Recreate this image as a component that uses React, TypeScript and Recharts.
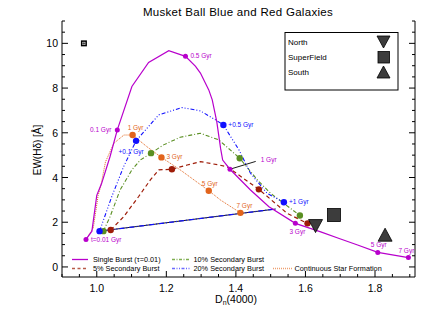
import React from "react";
import { ComposedChart, Line, Scatter, XAxis, YAxis } from "recharts";

// model tracks, [Dn(4000), EW(Hdelta)]
const singleBurst = [
  [0.969, 1.23], [0.986, 1.6], [1.0, 3.2], [1.014, 3.74], [1.038, 4.93],
  [1.059, 6.13], [1.101, 8.07], [1.149, 9.15], [1.207, 9.67], [1.255, 9.42],
  [1.284, 8.97], [1.298, 8.67], [1.322, 7.92], [1.332, 7.47], [1.345, 6.5],
  [1.356, 5.3], [1.362, 4.78], [1.383, 4.37], [1.442, 3.44], [1.495, 2.69],
  [1.571, 1.95], [1.644, 1.57], [1.697, 1.27], [1.75, 0.98], [1.808, 0.65],
  [1.896, 0.42],
];
const burst5 = [
  [1.04, 1.65], [1.077, 2.24], [1.12, 3.14], [1.154, 3.89], [1.178, 4.34],
  [1.216, 4.37], [1.26, 4.56], [1.298, 4.71], [1.351, 4.56], [1.375, 4.48],
  [1.466, 3.47], [1.548, 2.39], [1.606, 1.95],
];
const burst10 = [
  [1.019, 1.6], [1.038, 2.24], [1.067, 3.44], [1.101, 4.34], [1.125, 4.78],
  [1.156, 5.09], [1.192, 5.46], [1.24, 5.8], [1.298, 5.98], [1.351, 5.68],
  [1.411, 4.86], [1.462, 3.89], [1.5, 3.29], [1.584, 2.3],
];
const burst20 = [
  [1.008, 1.6], [1.043, 3.14], [1.077, 4.48], [1.113, 5.64], [1.178, 6.8],
  [1.245, 7.13], [1.298, 6.98], [1.341, 6.58], [1.364, 6.35], [1.409, 5.23],
  [1.442, 4.19], [1.49, 3.29], [1.538, 2.89],
];
const continuous = [
  [0.972, 1.3], [0.99, 1.75], [1.004, 3.2], [1.012, 3.65], [1.025, 4.7],
  [1.049, 5.53], [1.078, 5.9], [1.103, 5.9], [1.144, 5.38], [1.186, 4.9],
  [1.24, 4.34], [1.322, 3.41], [1.356, 2.99], [1.413, 2.42],
];
const youngLine = [[1.008, 1.6], [1.514, 2.59]];
const oneGyrLine = [[1.383, 4.37], [1.457, 4.72]];

// age markers
const singleBurstAges = [
  { x: 0.969, y: 1.23, label: "t=0.01 Gyr" },
  { x: 1.059, y: 6.13, label: "0.1 Gyr" },
  { x: 1.255, y: 9.42, label: "0.5 Gyr" },
  { x: 1.383, y: 4.37, label: "" },
  { x: 1.571, y: 1.95, label: "3 Gyr" },
  { x: 1.808, y: 0.65, label: "5 Gyr" },
  { x: 1.896, y: 0.42, label: "7 Gyr" },
];
const burst5Ages = [
  { x: 1.04, y: 1.65 }, { x: 1.216, y: 4.37 }, { x: 1.466, y: 3.47 }, { x: 1.606, y: 1.95 },
];
const burst10Ages = [
  { x: 1.019, y: 1.6 }, { x: 1.156, y: 5.09 }, { x: 1.411, y: 4.86 }, { x: 1.584, y: 2.3 },
];
const burst20Ages = [
  { x: 1.008, y: 1.6, label: "" },
  { x: 1.113, y: 5.64, label: "+0.1 Gyr" },
  { x: 1.364, y: 6.35, label: "+0.5 Gyr" },
  { x: 1.538, y: 2.89, label: "+1 Gyr" },
];
const continuousAges = [
  { x: 1.103, y: 5.9, label: "1 Gyr" },
  { x: 1.186, y: 4.9, label: "3 Gyr" },
  { x: 1.322, y: 3.41, label: "5 Gyr" },
  { x: 1.413, y: 2.42, label: "7 Gyr" },
];
const oneGyrTag = [{ x: 1.457, y: 4.72, label: "1 Gyr" }];

// observed stacks
const north = [{ x: 1.629, y: 1.85 }];
const superField = [{ x: 1.682, y: 2.32 }];
const south = [{ x: 1.829, y: 1.42 }];
const errorBox = [{ x: 0.963, y: 10.0 }];

const xTicks = [0.9, 0.95, 1.0, 1.05, 1.1, 1.15, 1.2, 1.25, 1.3, 1.35, 1.4, 1.45, 1.5, 1.55, 1.6, 1.65, 1.7, 1.75, 1.8, 1.85, 1.9];
const yTicks = [0, 0.5, 1, 1.5, 2, 2.5, 3, 3.5, 4, 4.5, 5, 5.5, 6, 6.5, 7, 7.5, 8, 8.5, 9, 9.5, 10, 10.5, 11];

const pts = (a: number[][]) => a.map(([x, y]) => ({ x, y }));

const MAG = "#b800cc";
const RED = "#9e1c08";
const GRN = "#5a8f22";
const BLU = "#1010ff";
const ORG = "#e2641c";
const FONT = "'Liberation Sans', Arial, sans-serif";

const isMajorX = (v: number) => Math.round(v * 20) % 4 === 0;
const isMajorY = (v: number) => v % 2 === 0;

const BottomTick = (p: any) => {
  const v = p.payload.value;
  const major = isMajorX(v);
  return (
    <g>
      <line x1={p.x} x2={p.x} y1={p.y} y2={p.y - (major ? 6 : 3)} stroke="#000" />
      {major && (
        <text x={p.x} y={p.y + 15} textAnchor="middle" fontSize={10.5} fontFamily={FONT} fill="#000">
          {v.toFixed(1)}
        </text>
      )}
    </g>
  );
};
const TopTick = (p: any) => {
  const major = isMajorX(p.payload.value);
  return <line x1={p.x} x2={p.x} y1={p.y} y2={p.y + (major ? 6 : 3)} stroke="#000" />;
};
const LeftTick = (p: any) => {
  const v = p.payload.value;
  const major = isMajorY(v);
  return (
    <g>
      <line x1={p.x} x2={p.x + (major ? 6 : 3)} y1={p.y} y2={p.y} stroke="#000" />
      {major && (
        <text x={p.x - 4} y={p.y + 4} textAnchor="end" fontSize={10.5} fontFamily={FONT} fill="#000">
          {v}
        </text>
      )}
    </g>
  );
};
const RightTick = (p: any) => {
  const major = isMajorY(p.payload.value);
  return <line x1={p.x} x2={p.x - (major ? 6 : 3)} y1={p.y} y2={p.y} stroke="#000" />;
};

// label placement: [dx, dy, anchor]
const labelPos: Record<string, [number, number, string]> = {
  "m:t=0.01 Gyr": [5, 3, "start"],
  "m:0.1 Gyr": [-6, 2, "end"],
  "m:0.5 Gyr": [5, 2, "start"],
  "m:3 Gyr": [2, 11, "middle"],
  "m:5 Gyr": [1, -5, "middle"],
  "m:7 Gyr": [-2, -5, "middle"],
  "b:+0.1 Gyr": [-5, 13, "middle"],
  "b:+0.5 Gyr": [5, 2, "start"],
  "b:+1 Gyr": [5, 2, "start"],
  "o:1 Gyr": [3, -5, "middle"],
  "o:3 Gyr": [5, 2, "start"],
  "o:5 Gyr": [1, -5, "middle"],
  "o:7 Gyr": [4, -5, "middle"],
  "k:1 Gyr": [5, 1, "start"],
};

const ageDot = (color: string, r: number, key: string, labelColor?: string) => (p: any) => {
  const lab = p.payload?.label;
  const pos = lab ? labelPos[`${key}:${lab}`] : undefined;
  return (
    <g>
      {r > 0 && <circle cx={p.cx} cy={p.cy} r={r} fill={color} />}
      {lab && pos && (
        <text
          x={p.cx + pos[0]}
          y={p.cy + pos[1]}
          textAnchor={pos[2] as any}
          fontSize={6.5}
          fontFamily={FONT}
          fill={labelColor || color}
        >
          {lab}
        </text>
      )}
    </g>
  );
};

const obsMarker = (kind: string) => (p: any) => {
  const { cx, cy } = p;
  const s = 7;
  const fill = "#3c3c3c";
  if (kind === "square")
    return <rect x={cx - 6.5} y={cy - 6.5} width={13} height={13} fill={fill} stroke="#000" strokeWidth={0.8} />;
  const pts =
    kind === "down"
      ? `${cx - s},${cy - 6} ${cx + s},${cy - 6} ${cx},${cy + 7}`
      : `${cx - s},${cy + 6} ${cx + s},${cy + 6} ${cx},${cy - 7}`;
  return <polygon points={pts} fill={fill} stroke="#000" strokeWidth={0.8} />;
};

const errorShape = (p: any) => (
  <g>
    <rect x={p.cx - 3} y={p.cy - 3} width={6} height={6} fill="#000" />
    <rect x={p.cx - 1.5} y={p.cy - 1.5} width={3} height={3} fill="#fff" />
    <line x1={p.cx} x2={p.cx} y1={p.cy - 1.5} y2={p.cy + 1.5} stroke="#000" strokeWidth={0.7} />
    <line x1={p.cx - 1.5} x2={p.cx + 1.5} y1={p.cy} y2={p.cy} stroke="#000" strokeWidth={0.7} />
  </g>
);

const Overlay = () => (
  <svg width={423} height={327} style={{ position: "absolute", left: 0, top: 0, pointerEvents: "none" }}>
    <text x={238} y={16} textAnchor="middle" fontSize={11.5} fontFamily={FONT} letterSpacing={0.3} fill="#000">
      Musket Ball Blue and Red Galaxies
    </text>
    <text x={236} y={303} textAnchor="middle" fontSize={10.5} fontFamily={FONT} fill="#000">
      D<tspan fontSize={7} dy={2}>n</tspan>
      <tspan dy={-2}>(4000)</tspan>
    </text>
    <text transform="translate(41,150) rotate(-90)" textAnchor="middle" fontSize={10} fontFamily={FONT} fill="#000">
      EW(Hδ)  [Å]
    </text>

    {/* symbol key */}
    <rect x={285} y={32.5} width={113} height={57.5} fill="#fff" stroke="#000" strokeWidth={1} />
    <g fontSize={8} fontFamily={FONT} fill="#000">
      <text x={288} y={44.5}>North</text>
      <text x={288} y={60}>SuperField</text>
      <text x={288} y={75}>South</text>
    </g>
    <polygon points="377,36 390,36 383.5,48" fill="#3c3c3c" stroke="#000" strokeWidth={0.8} />
    <rect x={378} y={51.5} width={11.5} height={11.5} fill="#3c3c3c" stroke="#000" strokeWidth={0.8} />
    <polygon points="377,78 390,78 383.5,66" fill="#3c3c3c" stroke="#000" strokeWidth={0.8} />

    {/* model key */}
    <g fontSize={7.3} fontFamily={FONT} fill="#000">
      <line x1={72} x2={88} y1={259.5} y2={259.5} stroke={MAG} strokeWidth={1.3} />
      <text x={93} y={262}>Single Burst (τ=0.01)</text>
      <line x1={72} x2={88} y1={268.5} y2={268.5} stroke="#b85a48" strokeWidth={1.3} strokeDasharray="3 2.5" />
      <text x={93} y={271}>5% Secondary Burst</text>
      <line x1={172} x2={190} y1={259.5} y2={259.5} stroke="#7fae50" strokeWidth={1.3} strokeDasharray="3 1.5 1 1.5" />
      <text x={193.5} y={262}>10% Secondary Burst</text>
      <line x1={172} x2={190} y1={268.5} y2={268.5} stroke="#6a6aff" strokeWidth={1.3} strokeDasharray="3 1.5 1 1.5 1 1.5" />
      <text x={193.5} y={271}>20% Secondary Burst</text>
      <line x1={273} x2={292} y1={268.5} y2={268.5} stroke="#eea070" strokeWidth={1.3} strokeDasharray="1 1" />
      <text x={294.5} y={271}>Continuous Star Formation</text>
    </g>
  </svg>
);

export default function App() {
  return (
    <div style={{ position: "absolute", left: 0, top: 0, width: 423, height: 327, background: "#fff" }}>
      <ComposedChart width={423} height={327} margin={{ top: 21, right: 0, bottom: 0, left: 0 }}>
        <XAxis
          type="number"
          dataKey="x"
          domain={[0.9, 1.915]}
          allowDataOverflow
          ticks={xTicks}
          interval={0}
          tickSize={0}
          tickMargin={0}
          tickLine={false}
          tick={<BottomTick />}
          axisLine={{ stroke: "#000" }}
          height={50}
        />
        <XAxis
          xAxisId="top"
          orientation="top"
          type="number"
          dataKey="x"
          domain={[0.9, 1.915]}
          allowDataOverflow
          ticks={xTicks}
          interval={0}
          tickSize={0}
          tickMargin={0}
          tickLine={false}
          tick={<TopTick />}
          axisLine={{ stroke: "#000" }}
          height={0}
        />
        <YAxis
          type="number"
          dataKey="y"
          domain={[-0.45, 11]}
          allowDataOverflow
          ticks={yTicks}
          interval={0}
          tickSize={0}
          tickMargin={0}
          tickLine={false}
          tick={<LeftTick />}
          axisLine={{ stroke: "#000" }}
          width={62}
        />
        <YAxis
          yAxisId="right"
          orientation="right"
          type="number"
          dataKey="y"
          domain={[-0.45, 11]}
          allowDataOverflow
          ticks={yTicks}
          interval={0}
          tickSize={0}
          tickMargin={0}
          tickLine={false}
          tick={<RightTick />}
          axisLine={{ stroke: "#000" }}
          width={8}
        />

        <Line data={pts(youngLine)} dataKey="y" stroke="#000" strokeWidth={0.9} dot={false} isAnimationActive={false} />
        <Line data={pts(youngLine)} dataKey="y" stroke={BLU} strokeWidth={1.3} strokeDasharray="5 2 1 2" dot={false} isAnimationActive={false} />
        <Line data={pts(oneGyrLine)} dataKey="y" stroke="#000" strokeWidth={0.9} dot={false} isAnimationActive={false} />
        <Line data={pts(continuous)} dataKey="y" stroke={ORG} strokeWidth={1} strokeDasharray="1 1" dot={false} isAnimationActive={false} />
        <Line data={pts(burst5)} dataKey="y" stroke={RED} strokeWidth={1.2} strokeDasharray="4 3" dot={false} isAnimationActive={false} />
        <Line data={pts(burst10)} dataKey="y" stroke={GRN} strokeWidth={1.1} strokeDasharray="4 2 1 2" dot={false} isAnimationActive={false} />
        <Line data={pts(burst20)} dataKey="y" stroke={BLU} strokeWidth={1.1} strokeDasharray="4 2 1 2 1 2 1 2" dot={false} isAnimationActive={false} />
        <Line data={pts(singleBurst)} dataKey="y" stroke={MAG} strokeWidth={1.2} dot={false} isAnimationActive={false} />

        <Scatter data={continuousAges} shape={ageDot(ORG, 3.2, "o")} isAnimationActive={false} />
        <Scatter data={burst5Ages} shape={ageDot(RED, 3.2, "r")} isAnimationActive={false} />
        <Scatter data={burst10Ages} shape={ageDot(GRN, 3.2, "g")} isAnimationActive={false} />
        <Scatter data={burst20Ages} shape={ageDot(BLU, 3.2, "b")} isAnimationActive={false} />
        <Scatter data={singleBurstAges} shape={ageDot(MAG, 2.5, "m")} isAnimationActive={false} />
        <Scatter data={oneGyrTag} shape={ageDot(MAG, 0, "k")} isAnimationActive={false} />

        <Scatter data={north} shape={obsMarker("down")} isAnimationActive={false} />
        <Scatter data={superField} shape={obsMarker("square")} isAnimationActive={false} />
        <Scatter data={south} shape={obsMarker("up")} isAnimationActive={false} />
        <Scatter data={errorBox} shape={errorShape} isAnimationActive={false} />
      </ComposedChart>
      <Overlay />
    </div>
  );
}
